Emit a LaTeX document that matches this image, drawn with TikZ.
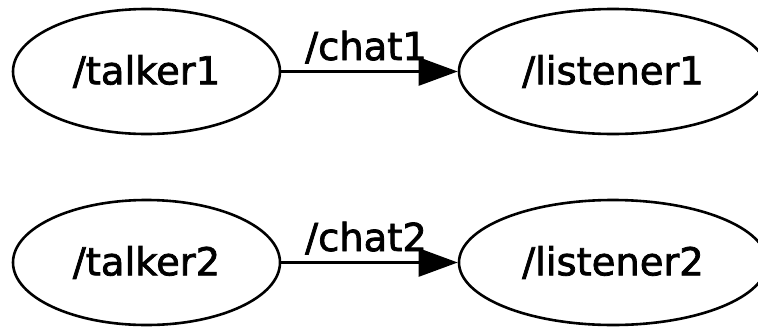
\documentclass[tikz,border=0pt]{standalone}
\usepackage{fontspec}
\setmainfont{DejaVu Sans}
\newfontfamily\labelfont{DejaVu Sans}[FakeBold=2]
\usetikzlibrary{shapes.geometric,arrows.meta}
\begin{document}
\begin{tikzpicture}[x=1pt,y=-1pt,
  nodetext/.style={font=\labelfont\fontsize{38.5}{46}\selectfont},
  talker/.style={nodetext, draw, line width=2.6pt, ellipse, inner sep=0pt,
    minimum width=267pt, minimum height=125pt},
  listener/.style={talker, minimum width=308pt},
  topic/.style={nodetext, anchor=base, inner sep=0pt},
  edge/.style={line width=2.6pt, -{Triangle[length=39pt,width=28pt]}}]
  \useasboundingbox (0,0) rectangle (758,327);
  \clip (0,0) rectangle (758,327);

  % first pair
  \node[talker] (t1) at (146.5,71.5) {/talker1};
  \node[listener] (l1) at (613,71.5) {/listener1};
  \draw[edge] (t1) -- (l1);
  \node[topic] (c1) at (366,60) {/chat1};

  % second pair
  \node[talker] (t2) at (146.5,262.5) {/talker2};
  \node[listener] (l2) at (613,262.5) {/listener2};
  \draw[edge] (t2) -- (l2);
  \node[topic] (c2) at (366,251) {/chat2};
\end{tikzpicture}
\end{document}
